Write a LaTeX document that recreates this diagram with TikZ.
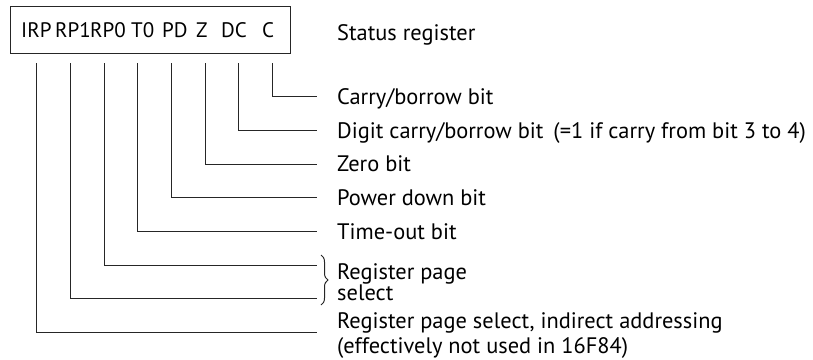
\documentclass[tikz,border=0pt]{standalone}
\usepackage{fontspec}
\setmainfont{PT Sans}
\usetikzlibrary{decorations.pathreplacing}
\begin{document}
\begin{tikzpicture}[x=1pt,y=-1pt,
  txt/.style={inner sep=0pt, font=\fontsize{22.4}{26}\selectfont},
  bitlbl/.style={inner sep=0pt, anchor=base west, font=\fontsize{21}{25}\selectfont},
  desc/.style={txt, anchor=base west},
  wire/.style={draw=black!85, line width=1pt},
  regbox/.style={draw=black!85, line width=1pt, inner sep=0pt, anchor=north west,
                 minimum width=280pt, minimum height=46.7pt}]
\useasboundingbox (0,0) rectangle (813,359);

% status register box and its bit names
\node[regbox] (reg) at (10,6) {};
\node[bitlbl] (bIRP) at (21,37.5)  {IRP};
\node[bitlbl] (bRP1) at (55,37.5)  {RP1};
\node[bitlbl] (bRP0) at (90,37.5)  {RP0};
\node[bitlbl] (bT0)  at (131,37.5) {T0};
\node[bitlbl] (bPD)  at (162,37.5) {PD};
\node[bitlbl] (bZ)   at (196,37.5) {Z};
\node[bitlbl] (bDC)  at (221,37.5) {DC};
\node[bitlbl] (bC)   at (262,37.5) {C};
\node[desc] (title) at (337,40.7) {Status register};

% start points below the box and end points of each bit line
\foreach \n/\x/\y in {IRP/36.7/332.3, RP1/70.4/298.5, RP0/104.1/265,
                      T0/137.8/231.5, PD/171.5/197.5, Z/205.2/164,
                      DC/238.9/130.5, C/272.6/96.7} {
  \coordinate (s\n) at (\x,63);
  \coordinate (e\n) at (316.7,\y);
}

% bit descriptions
\node[desc] (dC)   at (337,104)   {Carry/borrow bit};
\node[desc] (dDC)  at (337,138.2) {Digit carry/borrow bit\hspace{4pt} (=1 if carry from bit 3 to 4)};
\node[desc] (dZ)   at (337,171.6) {Zero bit};
\node[desc] (dPD)  at (337,205.1) {Power down bit};
\node[desc] (dT0)  at (337,239.2) {Time-out bit};
\node[desc] (dRP)  at (337,279.3) {Register page};
\node[desc] (dRPb) at (337,300.5) {select};
\node[desc] (dIRP) at (337,328.5) {Register page select, indirect addressing};
\node[desc] (dIRPb) at (337,353)  {(effectively not used in 16F84)};

% connectors
\foreach \n in {IRP,RP1,RP0,T0,PD,Z,DC,C}
  \draw[wire] (s\n) |- (e\n);

% brace grouping the two page-select bits
\coordinate (brTop) at (321,255);
\coordinate (brBot) at (321,305);
\draw[draw=black!85, line width=1pt,
      decorate, decoration={brace, amplitude=7pt}] (brTop) -- (brBot);
\end{tikzpicture}
\end{document}
